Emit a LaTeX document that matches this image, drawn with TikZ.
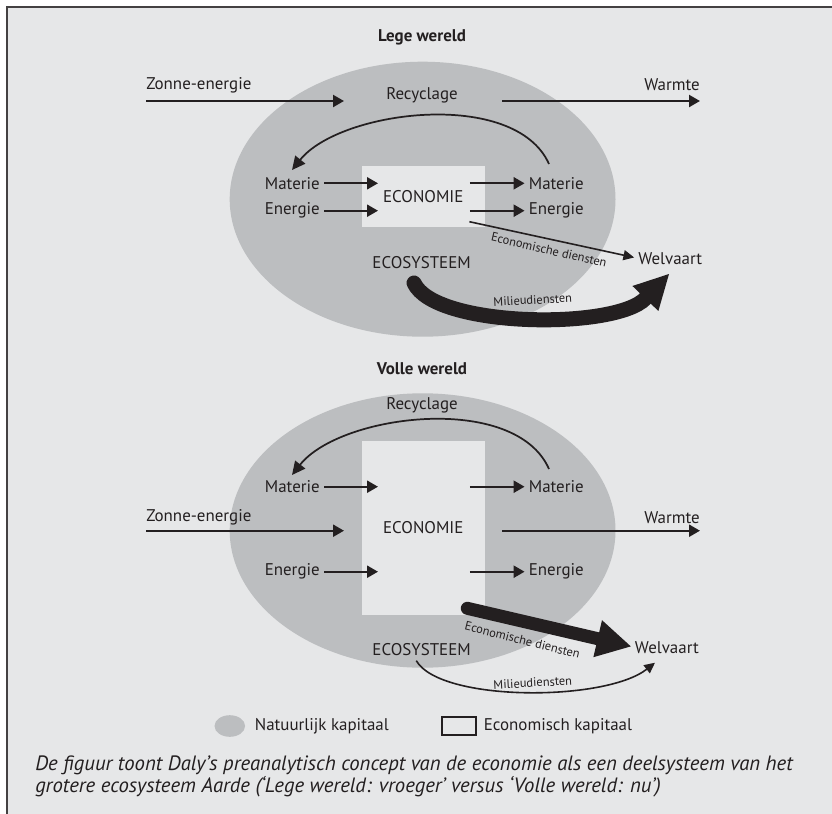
\documentclass[tikz,border=0pt]{standalone}
\usepackage{fontspec}
\setmainfont{PT Sans}
\usetikzlibrary{arrows.meta}
\definecolor{panel}{HTML}{E6E7E8}
\definecolor{natgray}{HTML}{BCBEC0}
\definecolor{ink}{HTML}{231F20}

\begin{document}
\begin{tikzpicture}[x=0.75pt, y=-0.75pt,
    lbl/.style={font=\fontsize{12.7}{15}\selectfont, text=ink, inner sep=0pt},
    smalllbl/.style={font=\fontsize{9.3}{11}\selectfont, text=ink, inner sep=0pt},
    heading/.style={font=\fontsize{12.7}{15}\selectfont\bfseries, text=ink, inner sep=0pt},
    capt/.style={font=\fontsize{15.55}{18}\selectfont\itshape, text=ink, inner sep=0pt, anchor=base west},
    econ/.style={lbl, fill=panel, minimum width=92pt},
    flow/.style={draw=ink, line width=1.7pt, -{Triangle[length=8.25pt, width=9pt]}},
    recyc/.style={draw=ink, line width=1.3pt, -{Triangle[length=10pt, width=9.5pt]}},
    slim/.style={draw=ink, line width=1.2pt, -{Triangle[length=8pt, width=7.5pt]}},
    fat/.style={draw=ink, line cap=round},
  ]
  \useasboundingbox (0,0) rectangle (832,814);
  \fill[panel] (7,7) rectangle (832,814);
  \draw[ink!85, line width=1pt] (7,814) -- (7,7) -- (832,7);

  % Lege wereld
  \node[heading] (t1) at (422,37) {Lege wereld};
  \fill[natgray] (422.6,199.2) ellipse [x radius=192.9, y radius=137.5];
  \node[econ, minimum height=46pt] (box1) at (423.3,196.7) {ECONOMIE};
  \node[lbl, anchor=west] (zon1) at (146,85) {Zonne-energie};
  \node[lbl, anchor=east] (warm1) at (700,85) {Warmte};
  \node[lbl] (rec1) at (422,95.7) {Recyclage};
  \node[lbl, anchor=east] (mat1) at (320,183.3) {Materie};
  \node[lbl, anchor=east] (en1) at (320,210.7) {Energie};
  \node[lbl, anchor=west] (mat1r) at (528.6,183.3) {Materie};
  \node[lbl, anchor=west] (en1r) at (528.6,210.7) {Energie};
  \node[lbl, anchor=west] (wel1) at (638,258.3) {Welvaart};
  \node[lbl] (ecos1) at (421.6,262.7) {ECOSYSTEEM};
  \coordinate (zon1a) at (146,101);
  \coordinate (zon1b) at (344,101);
  \coordinate (warm1a) at (502,101);
  \coordinate (warm1b) at (700,101);
  \coordinate (rc1a) at (549,164);
  \coordinate (rc1b) at (292,170);
  \coordinate (ed1) at (469.4,221.7);
  \coordinate (mil1a) at (414,283);
  \coordinate (mil1b) at (669,274);

  \draw[flow] (zon1a) -- (zon1b);
  \draw[flow] (warm1a) -- (warm1b);
  \draw[recyc] (rc1a) .. controls (515,88) and (340,110) .. (rc1b);
  \draw[flow] ([xshift=3pt]mat1.east) -- ++(54,0);
  \draw[flow] ([xshift=3pt]en1.east) -- ++(54,0);
  \draw[flow] ([xshift=-44pt]mat1r.west) -- ([xshift=-3pt]mat1r.west);
  \draw[flow] ([xshift=-44pt]en1r.west) -- ([xshift=-3pt]en1r.west);
  \draw[slim, shorten >=3pt] (ed1) -- (wel1.west);
  \node[smalllbl, rotate=-13] at (549,250) {Economische diensten};
  \draw[fat, line width=11.25pt, -{Triangle[length=25.5pt, width=27pt, line width=0pt]}]
    (mil1a) .. controls (435,328) and (615,330) .. (mil1b);
  \node[smalllbl, rotate=3] at (532.7,300) {Milieudiensten};

  % Volle wereld
  \node[heading] (t2) at (422,368.3) {Volle wereld};
  \fill[natgray] (422.6,530.5) ellipse [x radius=192.9, y radius=137.2];
  \node[econ, minimum height=130.7pt] (box2) at (423.3,527.8) {ECONOMIE};
  \node[lbl, anchor=west] (zon2) at (146,517.7) {Zonne-energie};
  \node[lbl, anchor=east] (warm2) at (700,517.7) {Warmte};
  \node[lbl] (rec2) at (422,405) {Recyclage};
  \node[lbl, anchor=east] (mat2) at (320,486.7) {Materie};
  \node[lbl, anchor=east] (en2) at (320,571.7) {Energie};
  \node[lbl, anchor=west] (mat2r) at (528.6,486.7) {Materie};
  \node[lbl, anchor=west] (en2r) at (528.6,571.7) {Energie};
  \node[lbl, anchor=west] (wel2) at (634.7,647.3) {Welvaart};
  \node[lbl] (ecos2) at (421.6,650) {ECOSYSTEEM};
  \coordinate (zon2a) at (146,530.7);
  \coordinate (zon2b) at (344,530.7);
  \coordinate (warm2a) at (502,530.7);
  \coordinate (warm2b) at (700,530.7);
  \coordinate (rc2a) at (549,469);
  \coordinate (rc2b) at (292,475);
  \coordinate (ed2) at (467.3,608.3);
  \coordinate (mil2a) at (416.3,660.7);
  \coordinate (mil2b) at (655,662.7);

  \draw[flow] (zon2a) -- (zon2b);
  \draw[flow] (warm2a) -- (warm2b);
  \draw[recyc] (rc2a) .. controls (515,392) and (340,414) .. (rc2b);
  \draw[flow] ([xshift=3pt]mat2.east) -- ++(54,0);
  \draw[flow] ([xshift=3pt]en2.east) -- ++(54,0);
  \draw[flow] ([xshift=-44pt]mat2r.west) -- ([xshift=-3pt]mat2r.west);
  \draw[flow] ([xshift=-44pt]en2r.west) -- ([xshift=-3pt]en2r.west);
  \draw[fat, line width=9.75pt, shorten >=3pt, -{Triangle[length=25.5pt, width=28.5pt, line width=0pt]}]
    (ed2) -- (wel2.west);
  \node[smalllbl, rotate=-14] at (522.4,640) {Economische diensten};
  \draw[slim] (mil2a) .. controls (440,702) and (605,702) .. (mil2b);
  \node[smalllbl, rotate=3] at (532.7,682.7) {Milieudiensten};

  % legenda
  \fill[natgray] (229.8,726) ellipse [x radius=15.3, y radius=10.8];
  \node[lbl, anchor=west] (nat) at (254.6,726) {Natuurlijk kapitaal};
  \draw[ink, line width=0.8pt, fill=panel] (442,717) rectangle (476,735);
  \node[lbl, anchor=west] (eck) at (483.5,726) {Economisch kapitaal};

  % bijschrift
  \node[capt] (cap1) at (35,770) {De figuur toont Daly’s preanalytisch concept van de economie als een deelsysteem van het};
  \node[capt] (cap2) at (35,792) {grotere ecosysteem Aarde (‘Lege wereld: vroeger’ versus ‘Volle wereld: nu’)};
\end{tikzpicture}
\end{document}
